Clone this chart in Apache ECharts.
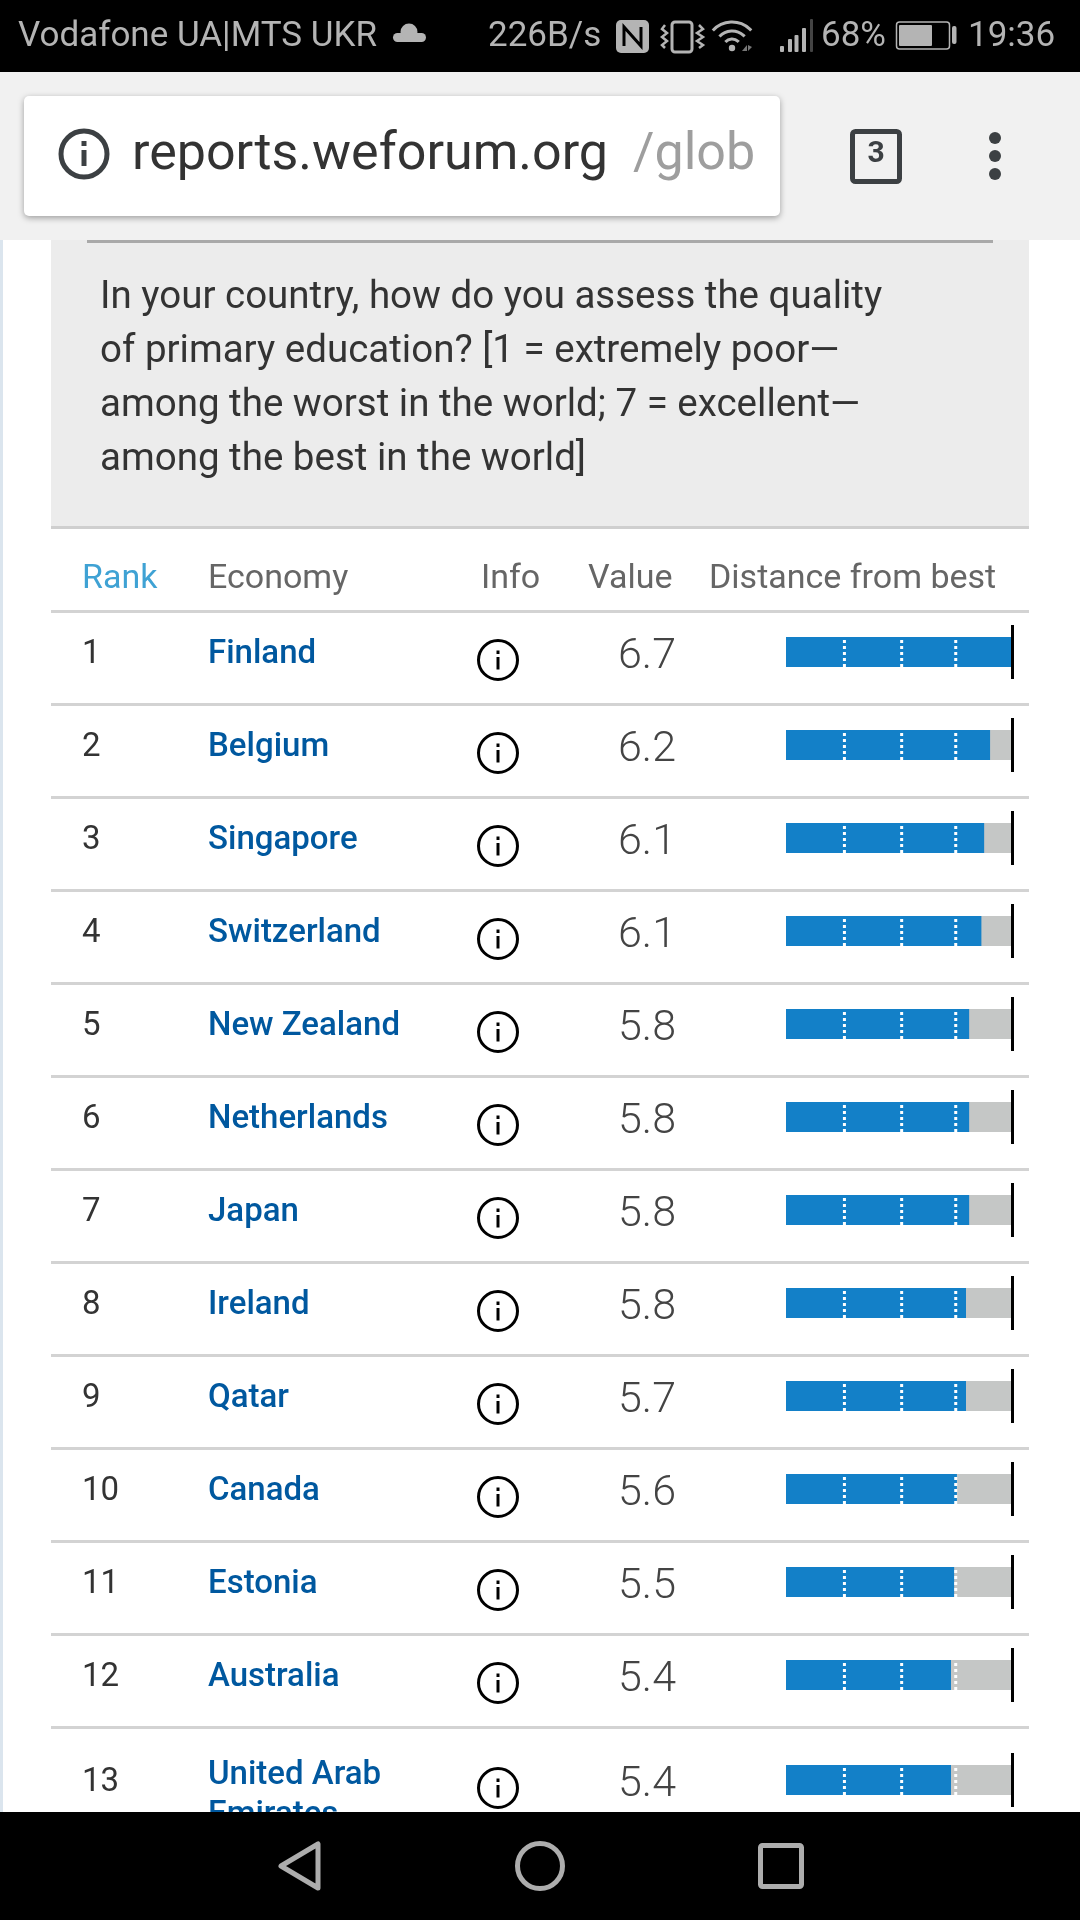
<!DOCTYPE html>
<html><head><meta charset="utf-8">
<style>html,body{margin:0;padding:0;background:#fff}#c{width:1080px;height:1920px}</style>
<script src="https://cdn.jsdelivr.net/npm/echarts@6/dist/echarts.min.js"></script>
</head><body><div id="c"></div>
<script>
const ranks = [1,2,3,4,5,6,7,8,9,10,11,12,13];
const economies = ['Finland','Belgium','Singapore','Switzerland','New Zealand','Netherlands','Japan','Ireland','Qatar','Canada','Estonia','Australia','United Arab\nEmirates'];
const valueLabels = ['6.7','6.2','6.1','6.1','5.8','5.8','5.8','5.8','5.7','5.6','5.5','5.4','5.4'];
const barValues = [6.7,6.17,6.02,5.95,5.64,5.64,5.64,5.56,5.56,5.33,5.26,5.18,5.18];
const dashValues = [2.48,3.93,5.30];
const scaleMin = 1;
const bestValue = 6.7;
const questionLines = ['In your country, how do you assess the quality','of primary education? [1 = extremely poor\u2014','among the worst in the world; 7 = excellent\u2014','among the best in the world]'];
const headers = ['Rank','Economy','Info','Value','Distance from best'];

const FF = 'Roboto';
const BLUE = '#1380c8', GREY = '#c5c7c6', SEP = '#d3d3d3', CHROME = '#b4b4b4', DARK = '#3c4043';

function txt(text, x, base, size, fill, weight, z, align) {
  return {type:'text', z:z||5, style:{text, x, y:base-size*0.36, fontFamily:FF, fontSize:size, fontWeight:weight||400, fill,
    textAlign:align||'left', textVerticalAlign:'middle', align:align||'left', verticalAlign:'middle'}};
}
function rect(x,y,w,h,fill,z,r) { return {type:'rect', z:z||1, shape:{x,y,width:w,height:h,r:r||0}, style:{fill}}; }
function srect(x,y,w,h,stroke,lw,z,r) { return {type:'rect', z:z||1, shape:{x,y,width:w,height:h,r:r||0}, style:{fill:'none',stroke,lineWidth:lw}}; }
function poly(points,stroke,lw,z) { return {type:'polyline', z:z||5, shape:{points}, style:{fill:'none',stroke,lineWidth:lw}}; }

const graphics = [
  rect(0,240,3,1580,'#dbe5ee',1),
  rect(51,240,978,286,'#ececec',1),
  rect(87,240,906,3,'#a9a9a9',2),
  rect(51,526,978,3,'#cfcfcf',2),
  rect(51,610,978,3,SEP,2),
  // top bars
  rect(0,0,1080,72,'#000',50),
  rect(0,72,1080,168,'#f1f1f1',50),
  {type:'rect', z:51, shape:{x:24,y:96,width:756,height:120,r:5}, style:{fill:'#fff',shadowBlur:6,shadowColor:'rgba(0,0,0,0.35)',shadowOffsetY:2}},
  // status text
  txt('Vodafone UA|MTS UKR',18,50,35,CHROME,400,52),
  // cloud
  rect(393,33,33,9,CHROME,52,4.5),
  {type:'circle', z:52, shape:{cx:409,cy:32,r:8.5}, style:{fill:CHROME}},
  txt('226B/s',488,50,35,CHROME,400,52),
  // NFC
  rect(616,20,33,33,CHROME,52,5),
  poly([[624,46],[624,27],[641,46],[641,27]],'#000',3,53),
  // vibrate
  srect(672,22,20,30,CHROME,3,52,3),
  poly([[665,25],[662,29],[667,33],[662,37],[667,41],[662,45],[665,48]],CHROME,2.5,52),
  poly([[699,25],[703,29],[697,33],[703,37],[697,41],[703,45],[699,48]],CHROME,2.5,52),
  // wifi
  {type:'arc', z:52, shape:{cx:732,cy:48,r:26,startAngle:-2.4,endAngle:-0.74}, style:{fill:'none',stroke:CHROME,lineWidth:3}},
  {type:'arc', z:52, shape:{cx:732,cy:48,r:17,startAngle:-2.4,endAngle:-0.74}, style:{fill:'none',stroke:CHROME,lineWidth:3}},
  {type:'arc', z:52, shape:{cx:732,cy:48,r:9,startAngle:-2.4,endAngle:-0.74}, style:{fill:'none',stroke:CHROME,lineWidth:3}},
  {type:'circle', z:52, shape:{cx:732,cy:48,r:3.2}, style:{fill:CHROME}},
  {type:'polygon', z:52, shape:{points:[[742,51],[747,51],[747,45]]}, style:{fill:'#777'}},
  {type:'polygon', z:52, shape:{points:[[748,45],[748,51],[752,47]]}, style:{fill:'#777'}},
  // signal
  rect(780,46,4,6,CHROME,52,1), rect(788,39,4,13,CHROME,52,1), rect(794.5,35,4,17,CHROME,52,1), rect(802,28,4,24,CHROME,52,1), rect(810,19,3,33,'#444',52,1),
  txt('68%',821,50,35,CHROME,400,52),
  // battery
  srect(896.5,22,53,27,CHROME,1.5,52,3), rect(899,25,33,21,CHROME,52,1), rect(952,26,4.5,18,CHROME,52,2),
  txt('19:36',968,50,35,CHROME,400,52),
  // URL bar
  {type:'circle', z:52, shape:{cx:84,cy:154,r:23}, style:{fill:'none',stroke:DARK,lineWidth:5}},
  rect(81.5,150,5,16,DARK,52), rect(81.5,141,5,5,DARK,52),
  txt('reports.weforum.org',132,175,52,'#333',400,52),
  txt('/glob',633,175,52,'#9e9e9e',400,52),
  rect(757,98,20,116,'#fff',53),
  srect(852.5,131.5,47,50,DARK,5,52,3),
  txt('3',876,165,30,DARK,700,52,'center'),
  {type:'circle', z:52, shape:{cx:995,cy:138,r:6}, style:{fill:DARK}},
  {type:'circle', z:52, shape:{cx:995,cy:156,r:6}, style:{fill:DARK}},
  {type:'circle', z:52, shape:{cx:995,cy:174,r:6}, style:{fill:DARK}},
  // nav bar
  rect(0,1812,1080,108,'#000',50),
  {type:'polygon', z:52, shape:{points:[[318,1844],[318,1888],[281,1866]]}, style:{fill:'none',stroke:'#adadad',lineWidth:5,lineJoin:'round'}},
  {type:'circle', z:52, shape:{cx:540,cy:1866,r:22.5}, style:{fill:'none',stroke:'#adadad',lineWidth:5}},
  srect(760.5,1845.5,41,41,'#adadad',5,52,2),
];
questionLines.forEach((l,i)=>graphics.push(txt(l,100,312+54*i,38.5,'#333',400,5)));
const headerX = [82,208,481,588,709];
headers.forEach((h,i)=>graphics.push(txt(h,headerX[i],592,34,i===0?'#3fa2d4':'#666',400,5)));

function rowSeries(gridIdx, offset, count) {
  const cats = economies.slice(offset, offset+count);
  const base = {xAxisIndex:gridIdx, yAxisIndex:gridIdx};
  return [
    {...base, type:'bar', z:2, barWidth:30, barGap:'-100%', silent:true, itemStyle:{color:GREY}, data:cats.map(()=>bestValue)},
    {...base, type:'bar', z:3, barWidth:30, barGap:'-100%', silent:true, itemStyle:{color:BLUE}, data:barValues.slice(offset,offset+count)},
    {...base, type:'custom', z:4, silent:true, data:cats.map((c,i)=>[bestValue,i]), encode:{x:0,y:1},
      renderItem(params, api) {
        const i = offset + params.dataIndex;
        const [bx, cy] = api.coord([api.value(0), api.value(1)]);
        const ch = [];
        dashValues.forEach(d=>{
          const x = api.coord([d, api.value(1)])[0];
          ch.push({type:'line', shape:{x1:x,y1:cy-12,x2:x,y2:cy+15}, style:{stroke:'#fff',lineWidth:3,lineDash:[3,3]}});
        });
        ch.push({type:'rect', shape:{x:bx,y:cy-27,width:3,height:54}, style:{fill:'#000'}});
        if (i !== ranks.length-1) ch.push({type:'rect', shape:{x:51,y:cy+51,width:978,height:3}, style:{fill:SEP}});
        const mk=(text,x,y,size,fill,weight,lh)=>({type:'text', style:{text,x,y,fontFamily:FF,fontSize:size,fontWeight:weight,fill,lineHeight:lh,
          textAlign:'left',textVerticalAlign:'middle',align:'left',verticalAlign:'middle'}});
        ch.push(mk(String(ranks[i]),82,cy+3,33,'#333',400));
        ch.push(mk(economies[i],208,economies[i].includes('\n')?cy+16:cy+3,33,'#00589f',500,40));
        ch.push({type:'circle', shape:{cx:498,cy:cy+8,r:19.5}, style:{fill:'#fff',stroke:'#000',lineWidth:3}});
        ch.push({type:'rect', shape:{x:496.5,y:cy+5,width:3,height:12.5}, style:{fill:'#000'}});
        ch.push({type:'rect', shape:{x:496.5,y:cy-1.5,width:3,height:3.5}, style:{fill:'#000'}});
        ch.push(mk(valueLabels[i],618,cy+5,43,'#444',300));
        return {type:'group', children:ch};
      }}
  ];
}

const chart = echarts.init(document.getElementById('c'), null, {renderer:'canvas', width:1080, height:1920});
const xA = i=>({gridIndex:i,type:'value',min:scaleMin,max:bestValue,show:false});
const yA = (i,cats)=>({gridIndex:i,type:'category',inverse:true,data:cats,show:false});
chart.setOption({
  animation:false,
  backgroundColor:'#fff',
  grid:[{left:786,width:225,top:605.5,height:1116},{left:786,width:225,top:1733.5,height:93}],
  xAxis:[xA(0),xA(1)],
  yAxis:[yA(0,economies.slice(0,12)),yA(1,economies.slice(12))],
  series:[...rowSeries(0,0,12),...rowSeries(1,12,1)],
  graphic:{elements:graphics}
});
</script></body></html>
